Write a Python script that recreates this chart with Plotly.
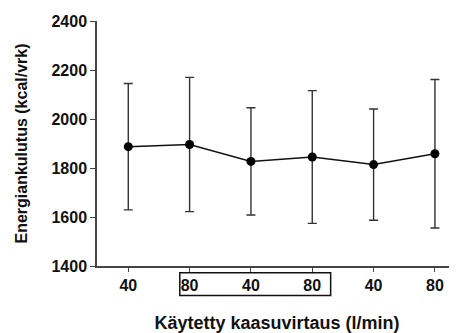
import plotly.graph_objects as go

positions = [0, 1, 2, 3, 4, 5]
tick_labels = ["40", "80", "40", "80", "40", "80"]
means = [1887, 1896, 1827, 1845, 1814, 1858]
sds = [258, 274, 219, 271, 227, 303]

y_ticks = [1400, 1600, 1800, 2000, 2200, 2400]

font_family = "Liberation Sans, Arial, sans-serif"

fig = go.Figure()
fig.add_trace(go.Scatter(
    x=positions, y=means,
    mode="lines+markers",
    line=dict(color="#111111", width=1.5),
    marker=dict(color="#000000", size=9),
    error_y=dict(type="data", array=sds, symmetric=True,
                 color="#333333", thickness=1.4, width=4.5),
    showlegend=False,
))

fig.add_shape(type="rect", xref="x", yref="paper",
              x0=positions[1] - 0.16, x1=positions[3] + 0.3,
              y0=-0.12, y1=-0.028,
              line=dict(color="#111111", width=1.5), fillcolor="rgba(0,0,0,0)")

# page body has an 8px default margin; size the figure to fill the rest
fig.update_layout(
    width=449, height=325,
    margin=dict(l=89, r=0, t=13, b=67),
    paper_bgcolor="white", plot_bgcolor="white",
    font=dict(family=font_family, size=16, color="#111111"),
    xaxis=dict(
        range=[-0.51, 5.36], automargin=False,
        tickmode="array", tickvals=positions, ticktext=tick_labels,
        ticks="outside", ticklen=4, tickwidth=1.2, tickcolor="#444444",
        showline=True, linecolor="#444444", linewidth=1.5,
        showgrid=False, zeroline=False,
        tickfont=dict(family=font_family, size=16, color="#111111", weight="bold"),
        title=dict(text="<b>Käytetty kaasuvirtaus (l/min)</b>", standoff=24,
                   font=dict(family=font_family, size=18, color="#111111")),
    ),
    yaxis=dict(
        range=[1400, 2400], automargin=False,
        tickmode="array", tickvals=y_ticks,
        ticks="outside", ticklen=5, tickwidth=1.2, tickcolor="#444444",
        showline=True, linecolor="#444444", linewidth=1.5,
        showgrid=False, zeroline=False,
        tickfont=dict(family=font_family, size=16, color="#111111", weight="bold"),
        title=dict(text="<b>Energiankulutus (kcal/vrk)</b>", standoff=20,
                   font=dict(family=font_family, size=16, color="#111111")),
    ),
)

fig.write_html("out.html")
